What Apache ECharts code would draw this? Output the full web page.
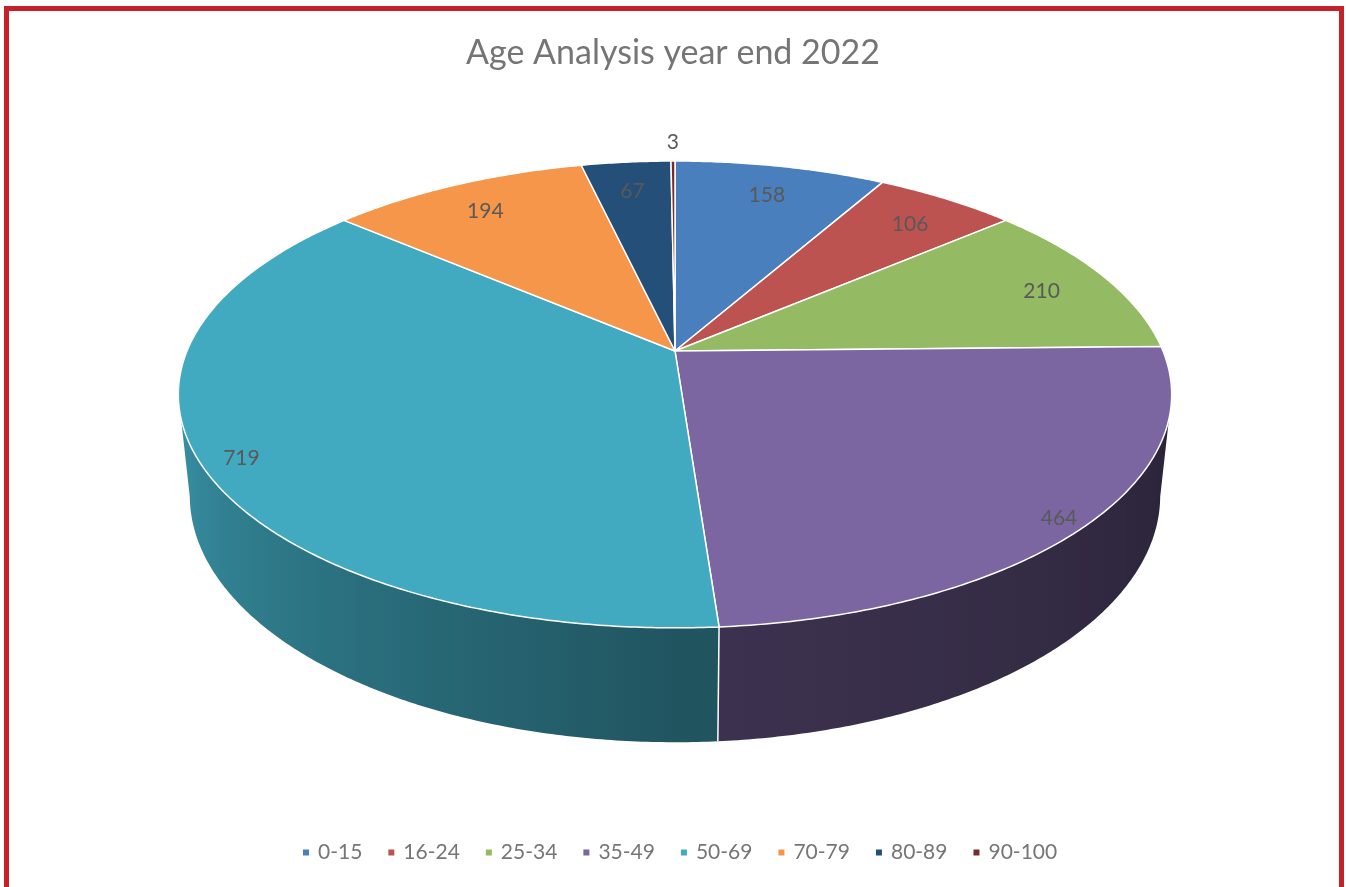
<!DOCTYPE html>
<html><head><meta charset="utf-8">
<script src="https://cdn.jsdelivr.net/npm/echarts@6/dist/echarts.min.js"></script>
<style>html,body{margin:0;padding:0;background:#fff}#chart{width:1346px;height:887px}</style>
</head><body><div id="chart"></div>
<script>
const titleText = 'Age Analysis year end 2022';
const categories = ['0-15','16-24','25-34','35-49','50-69','70-79','80-89','90-100'];
const values = [158,106,210,464,719,194,67,3];
const colors = ['#4a7fbd','#bd5350','#94bb63','#7b66a2','#41aac1','#f5964a','#244f79','#772c2a'];

const total = values.reduce((a,b)=>a+b,0);
const starts = []; (function(){let acc=0; values.forEach(v=>{starts.push(acc); acc+=v;});})();

// 3D projection layout
const G = {cx:675, cy:351, R:488, tilt:27.5*Math.PI/180, D:2326, H:115};
const K = G.R*Math.cos(G.tilt)/G.D;
const TH_R = Math.acos(-K)*180/Math.PI, TH_L = 360 - TH_R; // silhouette angles
function project(theta, r, z){
  const t = theta*Math.PI/180;
  const X = r*Math.sin(t), Y = r*Math.cos(t);
  const sp = Math.sin(G.tilt), cp = Math.cos(G.tilt);
  const yp = Y*sp + z*cp;
  const d = Y*cp - z*sp;
  const s = G.D/(G.D + d);
  return [G.cx + X*s, G.cy - yp*s];
}
function shade(hex, b){
  const n = parseInt(hex.slice(1),16);
  const r=(n>>16)&255, g=(n>>8)&255, bl=n&255;
  const f=x=>Math.max(0,Math.min(255,Math.round(x*b)));
  return 'rgb('+f(r)+','+f(g)+','+f(bl)+')';
}
function wallBright(t){
  if (t < 180) return 0.5 - (180-t)/90*0.18;
  return 0.5 + (t-180)/90*0.4;
}

function renderItem(params, api){
  const i = params.dataIndex;
  const v = api.value(0);
  const a0 = starts[i]/total*360, a1 = (starts[i]+v)/total*360;
  const children = [];
  // top face
  const pts = [project(0,0,0)];
  const n = Math.max(2, Math.ceil((a1-a0)/0.5));
  for (let k=0;k<=n;k++) pts.push(project(a0+(a1-a0)*k/n, G.R, 0));
  children.push({type:'polygon', shape:{points:pts}, style:{fill:colors[i], stroke:'#fff', lineWidth:1.5, lineJoin:'round'}, z2:10});
  // side wall (visible front part only)
  const w0 = Math.max(a0, TH_R), w1 = Math.min(a1, TH_L);
  if (w1 > w0){
    const m = Math.max(2, Math.ceil((w1-w0)/0.5));
    const top = [], bot = [], samples = [];
    for (let k=0;k<=m;k++){
      const t = w0+(w1-w0)*k/m;
      top.push(project(t,G.R,0)); bot.push(project(t,G.R,-G.H));
      samples.push({x:project(t,G.R,-G.H/2)[0], c:shade(colors[i], wallBright(t))});
    }
    const wpts = top.concat(bot.reverse());
    samples.sort((p,q)=>p.x-q.x);
    const xmin = samples[0].x, xmax = samples[samples.length-1].x;
    const stops = samples.filter((s,j)=>j%4===0 || j===samples.length-1)
      .map(s=>({offset:(s.x-xmin)/(xmax-xmin), color:s.c}));
    children.push({type:'polygon', shape:{points:wpts},
      style:{fill:new echarts.graphic.LinearGradient(xmin,0,xmax,0,stops,true)}, z2:2});
  }
  if (a0 > TH_R && a0 < TH_L){
    const p1 = project(a0,G.R,0), p2 = project(a0,G.R,-G.H);
    children.push({type:'line', shape:{x1:p1[0],y1:p1[1],x2:p2[0],y2:p2[1]}, style:{stroke:'#fff', lineWidth:1.5}, z2:6});
  }
  // label
  const share = v/total;
  const f = share < 0.01 ? 1.12 : (share > 0.3 ? 0.92 : (share > 0.2 ? 0.94 : 0.85));
  const lp = project((a0+a1)/2, f*G.R, share < 0.01 ? 0 : -6);
  children.push({type:'text', x:lp[0], y:lp[1], z2:20, style:{text:String(v), fill:'#595959', font:'21px Lato',
    align:'center', verticalAlign:'middle', textAlign:'center', textVerticalAlign:'middle'}});
  return {type:'group', children};
}

const chart = echarts.init(document.getElementById('chart'), null, {renderer:'canvas'});
chart.setOption({
  animation:false,
  backgroundColor:'#fff',
  title:{text:titleText, left:'center', top:36, padding:0, textStyle:{fontFamily:'Lato', fontSize:34, fontWeight:'normal', color:'#757575'}},
  legend:{data:categories, left:303, top:842, padding:0, icon:'rect', itemWidth:6, itemHeight:6, itemGap:26,
    textStyle:{fontFamily:'Lato', fontSize:21, color:'#767676', padding:[0,0,0,4]}},
  graphic:[{type:'rect', shape:{x:6.5, y:8.5, width:1335, height:900}, style:{fill:'none', stroke:'#c6202a', lineWidth:5}, silent:true, z:100}],
  series:[
    {type:'custom', coordinateSystem:'none', renderItem:renderItem, silent:true,
      data: values.map((v,i)=>({name:categories[i], value:[v]}))},
    {type:'pie', center:[-2000,-2000], radius:[0,1], silent:true, legendHoverLink:false,
      label:{show:false}, labelLine:{show:false},
      data: categories.map((c,i)=>({name:c, value:values[i], itemStyle:{color:colors[i]}}))}
  ]
});
</script></body></html>
